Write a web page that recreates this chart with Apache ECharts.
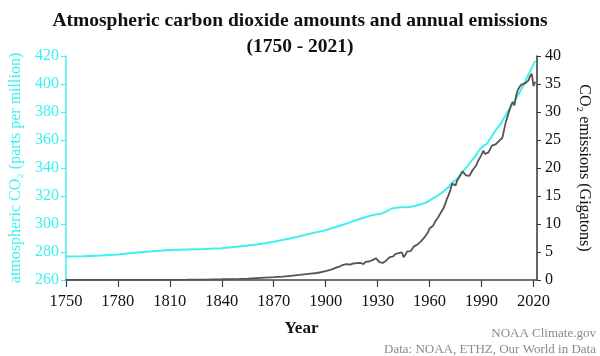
<!DOCTYPE html>
<html><head><meta charset="utf-8">
<script src="https://cdn.jsdelivr.net/npm/echarts@6/dist/echarts.min.js"></script>
<style>html,body{margin:0;padding:0;background:#fff}#c{width:600px;height:356px}</style>
</head><body><div id="c"></div>
<script>
const years = [1750,1760,1770,1780,1790,1800,1810,1820,1830,1840,1850,1855,1860,1865,1870,1875,1880,1885,1890,1895,
1900,1901,1902,1903,1904,1905,1906,1907,1908,1909,1910,1911,1912,1913,1914,1915,1916,1917,1918,1919,
1920,1921,1922,1923,1924,1925,1926,1927,1928,1929,1930,1931,1932,1933,1934,1935,1936,1937,1938,1939,
1940,1941,1942,1943,1944,1945,1946,1947,1948,1949,1950,1951,1952,1953,1954,1955,1956,1957,1958,1959,
1960,1961,1962,1963,1964,1965,1966,1967,1968,1969,1970,1971,1972,1973,1974,1975,1976,1977,1978,1979,
1980,1981,1982,1983,1984,1985,1986,1987,1988,1989,1990,1991,1992,1993,1994,1995,1996,1997,1998,1999,
2000,2001,2002,2003,2004,2005,2006,2007,2008,2009,2010,2011,2012,2013,2014,2015,2016,2017,2018,2019,
2020,2021];

const co2ppm = [276.8,277.0,277.5,278.3,279.5,280.5,281.4,281.8,282.2,282.7,284.0,284.6,285.3,286.2,287.3,288.5,289.8,291.2,292.8,294.2,
295.6,296.0,296.4,296.8,297.1,297.5,297.9,298.3,298.7,299.1,299.5,299.9,300.3,300.8,301.2,301.7,302.1,302.5,302.9,303.3,
303.7,304.1,304.5,304.9,305.3,305.7,306.0,306.3,306.6,306.8,307.0,307.2,307.4,307.7,308.3,309.0,309.8,310.5,311.0,311.3,
311.5,311.6,311.7,311.8,311.9,312.0,312.0,312.1,312.2,312.3,312.5,312.8,313.1,313.4,313.7,314.1,314.5,314.9,315.3,316.0,
316.9,317.6,318.5,319.0,319.6,320.0,321.4,322.2,323.1,324.6,325.7,326.3,327.5,329.7,330.2,331.1,332.0,333.8,335.4,336.8,
338.8,340.1,341.5,343.2,344.9,346.4,347.6,349.3,351.7,353.2,354.5,355.7,356.5,357.2,359.0,361.0,362.7,363.9,366.8,368.5,
369.7,371.3,373.5,376.0,377.7,380.0,382.1,384.0,385.8,387.6,390.1,391.9,394.1,396.7,398.8,401.0,404.4,406.8,408.7,411.7,
414.2,416.5];

const emissionsGt = [0.01,0.01,0.02,0.02,0.03,0.03,0.04,0.05,0.08,0.13,0.2,0.26,0.34,0.42,0.5,0.6,0.75,0.9,1.1,1.25,
1.6,1.7,1.75,1.9,1.95,2.05,2.2,2.55,2.4,2.55,2.7,2.7,2.85,3.05,2.75,2.7,2.95,3.05,3.0,2.65,
3.05,2.7,2.85,3.25,3.2,3.3,3.25,3.55,3.5,3.9,3.6,3.2,2.85,3.05,3.35,3.5,3.85,4.1,3.85,4.2,
4.6,4.85,4.8,5.0,4.95,4.05,4.5,5.1,5.4,5.15,5.6,6.0,6.2,6.35,6.5,6.9,7.2,7.6,7.9,8.5,
9.2,9.3,9.7,10.3,10.8,11.2,11.8,12.1,12.8,13.6,14.5,15.2,16.1,17.2,17.2,16.9,17.8,18.3,18.9,19.4,
19.1,18.7,18.5,18.6,19.2,19.7,20.1,20.5,21.3,21.8,22.4,23.1,22.5,22.4,22.8,23.4,24.0,24.2,24.2,24.3,
24.8,25.0,25.4,26.8,28.2,29.2,30.2,31.2,31.8,31.2,33.0,34.0,34.5,34.9,35.1,35.1,35.2,35.6,36.4,36.8,
34.6,35.4];

const xTicks = [1750,1780,1810,1840,1870,1900,1930,1960,1990,2020];

const CYAN = '#3ff0f0';
const SERIF = '"Liberation Serif","DejaVu Serif",serif';

const chart = echarts.init(document.getElementById('c'), null, {renderer:'canvas'});
chart.setOption({
  animation: false,
  backgroundColor: '#fff',
  title: {
    text: 'Atmospheric carbon dioxide amounts and annual emissions\n(1750 - 2021)',
    left: 'center', top: 3,
    textStyle: {fontFamily: SERIF, fontWeight: 'bold', fontSize: 19.5, color: '#111', lineHeight: 26}
  },
  grid: {left: 56, right: 52, top: 56, bottom: 76, containLabel: false},
  xAxis: {
    type: 'value', min: 1750, max: 2022,
    name: 'Year', nameLocation: 'middle', nameGap: 40,
    nameTextStyle: {fontFamily: SERIF, fontWeight: 'bold', fontSize: 17, color: '#111'},
    axisLine: {show: true, onZero: false, lineStyle: {color: '#444', width: 1.5}},
    axisTick: {show: true, inside: false, length: 7, customValues: xTicks, lineStyle: {color: '#444', width: 1.2}},
    axisLabel: {customValues: xTicks, margin: 13, fontFamily: SERIF, fontSize: 16.5, color: '#111',
      formatter: v => String(v)},
    splitLine: {show: false}
  },
  yAxis: [{
    type: 'value', min: 260, max: 420, interval: 20, position: 'left',
    name: 'atmospheric CO\u2082 (parts per million)', nameLocation: 'middle', nameGap: 41, nameRotate: 90,
    nameTextStyle: {fontFamily: SERIF, fontSize: 16, color: CYAN},
    axisLine: {show: true, onZero: false, lineStyle: {color: CYAN, width: 1.5}},
    axisTick: {show: true, length: 5, lineStyle: {color: CYAN}},
    axisLabel: {margin: 7, fontFamily: SERIF, fontSize: 16, color: CYAN},
    splitLine: {show: false}
  }, {
    type: 'value', min: 0, max: 40, interval: 5, position: 'right',
    name: 'CO\u2082 emissions (Gigatons)', nameLocation: 'middle', nameGap: 39, nameRotate: -90,
    nameTextStyle: {fontFamily: SERIF, fontSize: 16, color: '#111'},
    axisLine: {show: true, onZero: false, lineStyle: {color: '#333', width: 1.5}},
    axisTick: {show: true, length: 4, lineStyle: {color: '#333'}},
    axisLabel: {margin: 8, fontFamily: SERIF, fontSize: 16, color: '#111'},
    splitLine: {show: false}
  }],
  series: [{
    name: 'CO2 ppm', type: 'line', yAxisIndex: 0, showSymbol: false,
    data: years.map((y, i) => [y, co2ppm[i]]),
    lineStyle: {color: CYAN, width: 2}, z: 2
  }, {
    name: 'Emissions', type: 'line', yAxisIndex: 1, showSymbol: false,
    data: years.map((y, i) => [y, emissionsGt[i]]),
    lineStyle: {color: '#555', width: 1.8}, z: 3
  }],
  graphic: [{
    type: 'text', right: 4, top: 327,
    style: {text: 'NOAA Climate.gov', font: '13px ' + SERIF, fill: '#8a8a8a', textAlign: 'right'}
  }, {
    type: 'text', right: 4, top: 343,
    style: {text: 'Data: NOAA, ETHZ, Our World in Data', font: '13px ' + SERIF, fill: '#8a8a8a', textAlign: 'right'}
  }]
});
</script></body></html>
